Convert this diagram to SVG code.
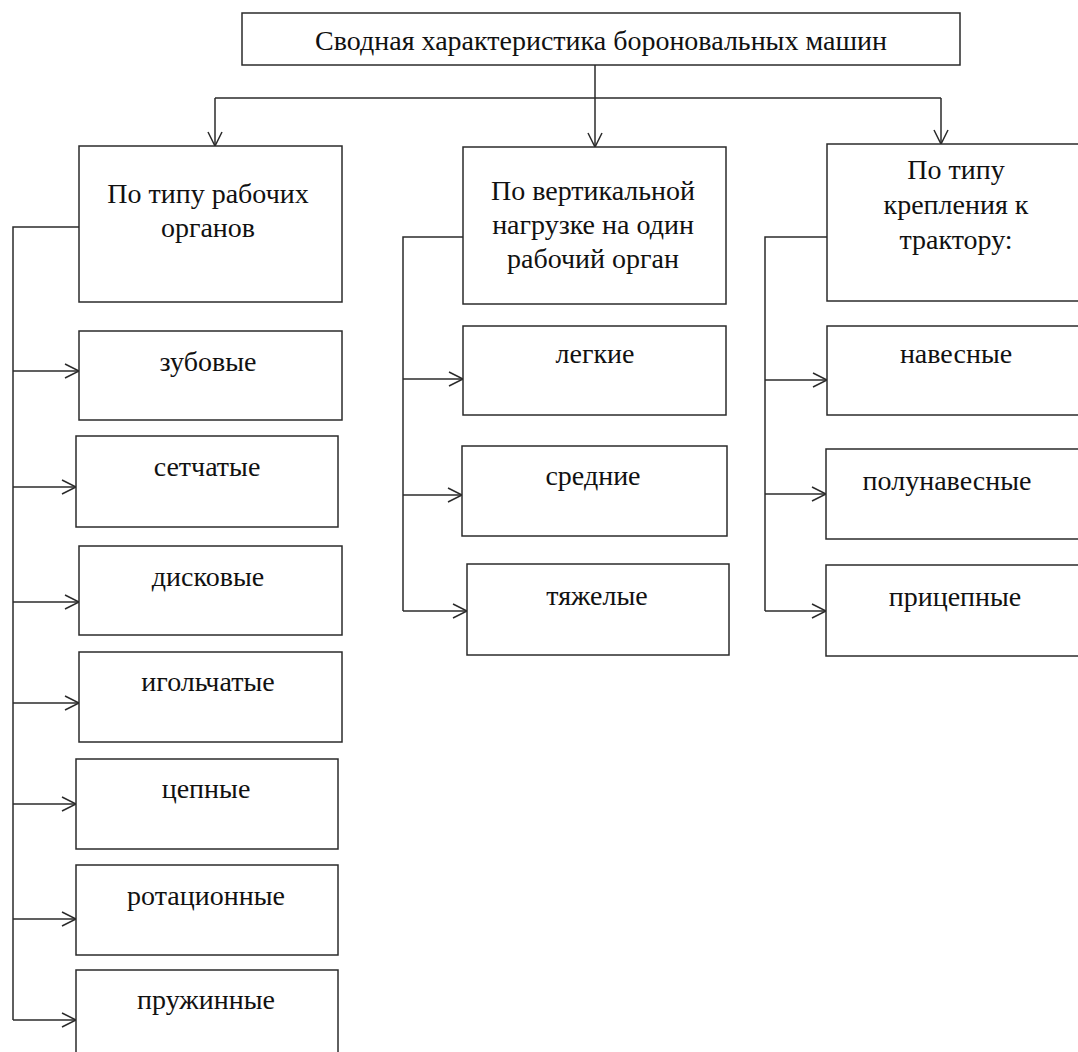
<svg xmlns="http://www.w3.org/2000/svg" width="1078" height="1052" viewBox="0 0 1078 1052">
<style>
.box{fill:#fff;stroke:#2b2b2b;stroke-width:1.5}
.t{font-family:"Liberation Serif","Times New Roman",serif;font-size:28px;fill:#111;text-anchor:middle}
.c{fill:none;stroke:#2b2b2b;stroke-width:1.5}
.a{marker-end:url(#ah)}
</style>
<defs>
<marker id="ah" viewBox="-16 -9 18 18" markerWidth="18" markerHeight="18" refX="0" refY="0" orient="auto" markerUnits="userSpaceOnUse">
<path d="M-14,-7 L0,0 L-14,7" fill="none" stroke="#2b2b2b" stroke-width="1.5"/>
</marker>
</defs>
<rect width="1078" height="1052" fill="#fff"/>
<g id="connectors">
<path class="c" d="M595,65 V98 M215,98 H941"/>
<path class="c a" d="M215,98 V146"/>
<path class="c a" d="M595,98 V147"/>
<path class="c a" d="M941,98 V144"/>
<path class="c" d="M79,227 H13 V1020"/>
<path class="c a" d="M13,371 H79"/>
<path class="c a" d="M13,487 H76"/>
<path class="c a" d="M13,602 H79"/>
<path class="c a" d="M13,703 H79"/>
<path class="c a" d="M13,804 H76"/>
<path class="c a" d="M13,919 H76"/>
<path class="c a" d="M13,1020 H76"/>
<path class="c" d="M463,237 H403 V611"/>
<path class="c a" d="M403,379 H463"/>
<path class="c a" d="M403,495 H462"/>
<path class="c a" d="M403,611 H467"/>
<path class="c" d="M827,237 H765 V611"/>
<path class="c a" d="M765,380 H827"/>
<path class="c a" d="M765,494 H826"/>
<path class="c a" d="M765,611 H826"/>
</g>
<g id="root"><rect class="box" x="242" y="13" width="718" height="52"/><text class="t" x="601" y="50">Сводная характеристика бороновальных машин</text></g>
<g id="h1"><rect class="box" x="79" y="146" width="263" height="156"/><text class="t" x="208" y="203">По типу рабочих</text><text class="t" x="208" y="237">органов</text></g>
<g id="h2"><rect class="box" x="463" y="147" width="263" height="157"/><text class="t" x="593" y="200">По вертикальной</text><text class="t" x="593" y="234">нагрузке на один</text><text class="t" x="593" y="268">рабочий орган</text></g>
<g id="h3"><rect class="box" x="827" y="144" width="270" height="157"/><text class="t" x="956" y="179">По типу</text><text class="t" x="956" y="214">крепления к</text><text class="t" x="956" y="249">трактору:</text></g>
<g id="n1"><rect class="box" x="79" y="331" width="263" height="89"/><text class="t" x="208" y="371">зубовые</text></g>
<g id="n2"><rect class="box" x="76" y="436" width="262" height="91"/><text class="t" x="207" y="476">сетчатые</text></g>
<g id="n3"><rect class="box" x="79" y="546" width="263" height="89"/><text class="t" x="208" y="586">дисковые</text></g>
<g id="n4"><rect class="box" x="79" y="652" width="263" height="90"/><text class="t" x="208" y="691">игольчатые</text></g>
<g id="n5"><rect class="box" x="76" y="759" width="262" height="90"/><text class="t" x="206" y="798">цепные</text></g>
<g id="n6"><rect class="box" x="76" y="865" width="262" height="90"/><text class="t" x="206" y="905">ротационные</text></g>
<g id="n7"><rect class="box" x="76" y="970" width="262" height="100"/><text class="t" x="206" y="1009">пружинные</text></g>
<g id="m1"><rect class="box" x="463" y="326" width="263" height="89"/><text class="t" x="595" y="363">легкие</text></g>
<g id="m2"><rect class="box" x="462" y="446" width="265" height="90"/><text class="t" x="593" y="485">средние</text></g>
<g id="m3"><rect class="box" x="467" y="564" width="262" height="91"/><text class="t" x="597" y="605">тяжелые</text></g>
<g id="r1"><rect class="box" x="827" y="326" width="270" height="89"/><text class="t" x="956" y="363">навесные</text></g>
<g id="r2"><rect class="box" x="826" y="449" width="271" height="90"/><text class="t" x="947" y="490">полунавесные</text></g>
<g id="r3"><rect class="box" x="826" y="565" width="271" height="91"/><text class="t" x="955" y="606">прицепные</text></g>
</svg>
